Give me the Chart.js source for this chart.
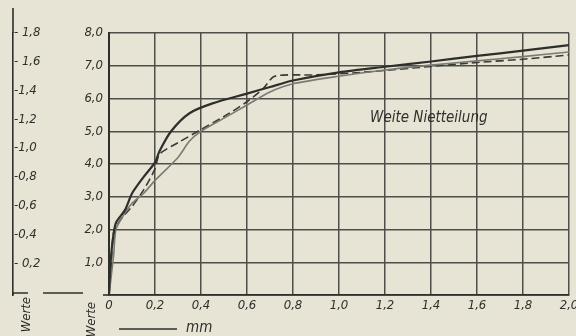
<!DOCTYPE html>
<html>
<head>
<meta charset="utf-8">
<script src="https://cdn.jsdelivr.net/npm/chart.js@4/dist/chart.umd.min.js"></script>
<style>
  html, body { margin: 0; padding: 0; background: #e7e4d5; }
  #wrap { width: 576px; height: 336px; position: relative; }
</style>
</head>
<body>
<div id="wrap"><canvas id="c" width="576" height="336"></canvas></div>
<script>
// ---- data (displacement in mm, load values) ----
const solidDisp  = [0, 0.005, 0.015, 0.03, 0.07, 0.1, 0.15, 0.2, 0.22, 0.27, 0.35, 0.45, 0.6, 0.7, 0.8, 1.0, 1.2, 1.4, 1.6, 1.8, 2.0];
const solidLoad  = [0, 0.8, 1.6, 2.2, 2.6, 3.1, 3.6, 4.05, 4.4, 5.0, 5.55, 5.85, 6.15, 6.35, 6.55, 6.8, 6.97, 7.13, 7.3, 7.46, 7.63];

const dashedDisp = [0, 0.01, 0.02, 0.05, 0.1, 0.15, 0.2, 0.22, 0.3, 0.4, 0.5, 0.6, 0.67, 0.72, 0.9, 1.1, 1.4, 1.6, 1.8, 2.0];
const dashedLoad = [0, 1.0, 1.9, 2.3, 2.7, 3.2, 3.85, 4.3, 4.65, 5.05, 5.45, 5.9, 6.3, 6.68, 6.72, 6.8, 6.98, 7.1, 7.2, 7.33];

const greyDisp   = [0, 0.02, 0.03, 0.06, 0.1, 0.15, 0.2, 0.3, 0.35, 0.4, 0.5, 0.6, 0.7, 0.8, 1.0, 1.2, 1.4, 1.6, 1.8, 2.0];
const greyLoad   = [0, 1.2, 2.0, 2.4, 2.8, 3.1, 3.5, 4.2, 4.7, 5.0, 5.4, 5.8, 6.2, 6.45, 6.68, 6.87, 7.02, 7.15, 7.28, 7.42];

const xTickValues = [0, 0.2, 0.4, 0.6, 0.8, 1.0, 1.2, 1.4, 1.6, 1.8, 2.0];
const xTickLabels = ["0", "0,2", "0,4", "0,6", "0,8", "1,0", "1,2", "1,4", "1,6", "1,8", "2,0"];
const yTickValues = [1, 2, 3, 4, 5, 6, 7, 8];
const yTickLabels = ["1,0", "2,0", "3,0", "4,0", "5,0", "6,0", "7,0", "8,0"];
const outerTickValues = [0.2, 0.4, 0.6, 0.8, 1.0, 1.2, 1.4, 1.6, 1.8];
const outerTickLabels = ["- 0,2", "-0,4", "-0,6", "-0,8", "-1,0", "-1,2", "-1,4", "- 1,6", "- 1,8"];
const curveLabel = "Weite Nietteilung";
const unitLabel = "mm";
const axisWord = "Werte";

// ---- styling ----
const INK = "#2f2f2b";
const GRID = "#4e4e48";
const PAPER = "#e7e4d5";
const FONT = '"DejaVu Sans Condensed", "Liberation Sans Narrow", "DejaVu Sans", sans-serif';

const pts = (xs, ys) => xs.map((x, i) => ({ x: x, y: ys[i] }));

const decor = {
  id: 'decor',
  beforeDraw(chart) {
    const ctx = chart.ctx;
    ctx.save();
    ctx.fillStyle = PAPER;
    ctx.fillRect(0, 0, chart.width, chart.height);
    ctx.restore();
  },
  afterDraw(chart) {
    const ctx = chart.ctx;
    const y2 = chart.scales.y2;
    const xs = chart.scales.x;
    const ys = chart.scales.y;
    const a = chart.chartArea;
    ctx.save();
    ctx.strokeStyle = INK;
    ctx.lineWidth = 1.6;
    const lx = y2.right;
    const base = y2.getPixelForValue(0);
    ctx.beginPath();
    ctx.moveTo(lx, 8); ctx.lineTo(lx, a.top);
    ctx.moveTo(lx, a.bottom); ctx.lineTo(lx, base + 1);
    ctx.moveTo(lx, base + 1); ctx.lineTo(lx + 15, base + 1);
    ctx.moveTo(lx + 30, base + 1); ctx.lineTo(lx + 70, base + 1);
    ctx.stroke();
    ctx.beginPath();
    ctx.moveTo(a.left - 6, a.bottom); ctx.lineTo(a.left, a.bottom);
    ctx.stroke();
    ctx.lineWidth = 1.5;
    ctx.beginPath();
    ctx.moveTo(a.left + 10, 329); ctx.lineTo(a.left + 68, 329);
    ctx.stroke();
    ctx.fillStyle = INK;
    ctx.font = 'italic 15px ' + FONT;
    ctx.textBaseline = 'middle';
    ctx.textAlign = 'left';
    ctx.fillText(unitLabel, a.left + 77, 328);
    ctx.font = 'italic 15px ' + FONT;
    ctx.fillText(curveLabel, xs.getPixelForValue(1.135), ys.getPixelForValue(5.4));
    ctx.font = 'italic 13px ' + FONT;
    [[27, 297], [92, 302]].forEach(([px, py]) => {
      ctx.save();
      ctx.translate(px, py);
      ctx.rotate(-Math.PI / 2);
      ctx.textAlign = 'right';
      ctx.textBaseline = 'middle';
      ctx.fillText(axisWord, 0, 0);
      ctx.restore();
    });
    ctx.restore();
  }
};

const tickFont = { family: FONT, size: 13, style: 'italic' };

new Chart(document.getElementById('c'), {
  type: 'line',
  data: {
    datasets: [
      { label: 'a', data: pts(solidDisp, solidLoad), borderColor: '#2e2e2a', borderWidth: 2.2, tension: 0.25 },
      { label: 'b', data: pts(greyDisp, greyLoad), borderColor: '#7a7a72', borderWidth: 1.6, tension: 0.25 },
      { label: 'c', data: pts(dashedDisp, dashedLoad), borderColor: '#3a3a35', borderWidth: 1.6, borderDash: [8, 4], tension: 0.25 }
    ]
  },
  options: {
    responsive: false,
    animation: false,
    devicePixelRatio: 1,
    elements: { point: { radius: 0 } },
    layout: { padding: { top: 33, right: 7, left: 0, bottom: 0 } },
    plugins: { legend: { display: false }, tooltip: { enabled: false } },
    scales: {
      x: {
        type: 'linear', min: 0, max: 2.0,
        afterBuildTicks: s => { s.ticks = xTickValues.map(v => ({ value: v })); },
        afterFit: s => { s.height = 41; s.paddingRight = 0; s.paddingLeft = 0; },
        ticks: {
          color: INK, font: tickFont, padding: 3, maxRotation: 0, autoSkip: false,
          callback: (v) => { const i = xTickValues.findIndex(t => Math.abs(t - v) < 1e-6); return i >= 0 ? xTickLabels[i] : ''; }
        },
        grid: { color: GRID, lineWidth: 1.5, drawTicks: false },
        border: { color: INK, width: 1.8 }
      },
      y: {
        type: 'linear', position: 'left', weight: 0, min: 0, max: 8,
        afterBuildTicks: s => { s.ticks = [0].concat(yTickValues).map(v => ({ value: v })); },
        afterFit: s => { s.width = 96; },
        ticks: {
          color: INK, font: tickFont, padding: 6, autoSkip: false,
          callback: (v) => { const i = yTickValues.indexOf(v); return i >= 0 ? yTickLabels[i] : ''; }
        },
        grid: { color: GRID, lineWidth: 1.5, drawTicks: false },
        border: { color: INK, width: 2 }
      },
      y2: {
        type: 'linear', position: 'left', weight: 1, min: -0.021, max: 1.8,
        afterBuildTicks: s => { s.ticks = outerTickValues.map(v => ({ value: v })); },
        afterFit: s => { s.width = 13; },
        ticks: {
          color: INK, font: tickFont, mirror: true, padding: 1, autoSkip: false,
          callback: (v) => { const i = outerTickValues.findIndex(t => Math.abs(t - v) < 1e-6); return i >= 0 ? outerTickLabels[i] : ''; }
        },
        grid: { display: false, drawOnChartArea: false, drawTicks: false },
        border: { color: INK, width: 1.6 }
      }
    }
  },
  plugins: [decor]
});
</script>
</body>
</html>
